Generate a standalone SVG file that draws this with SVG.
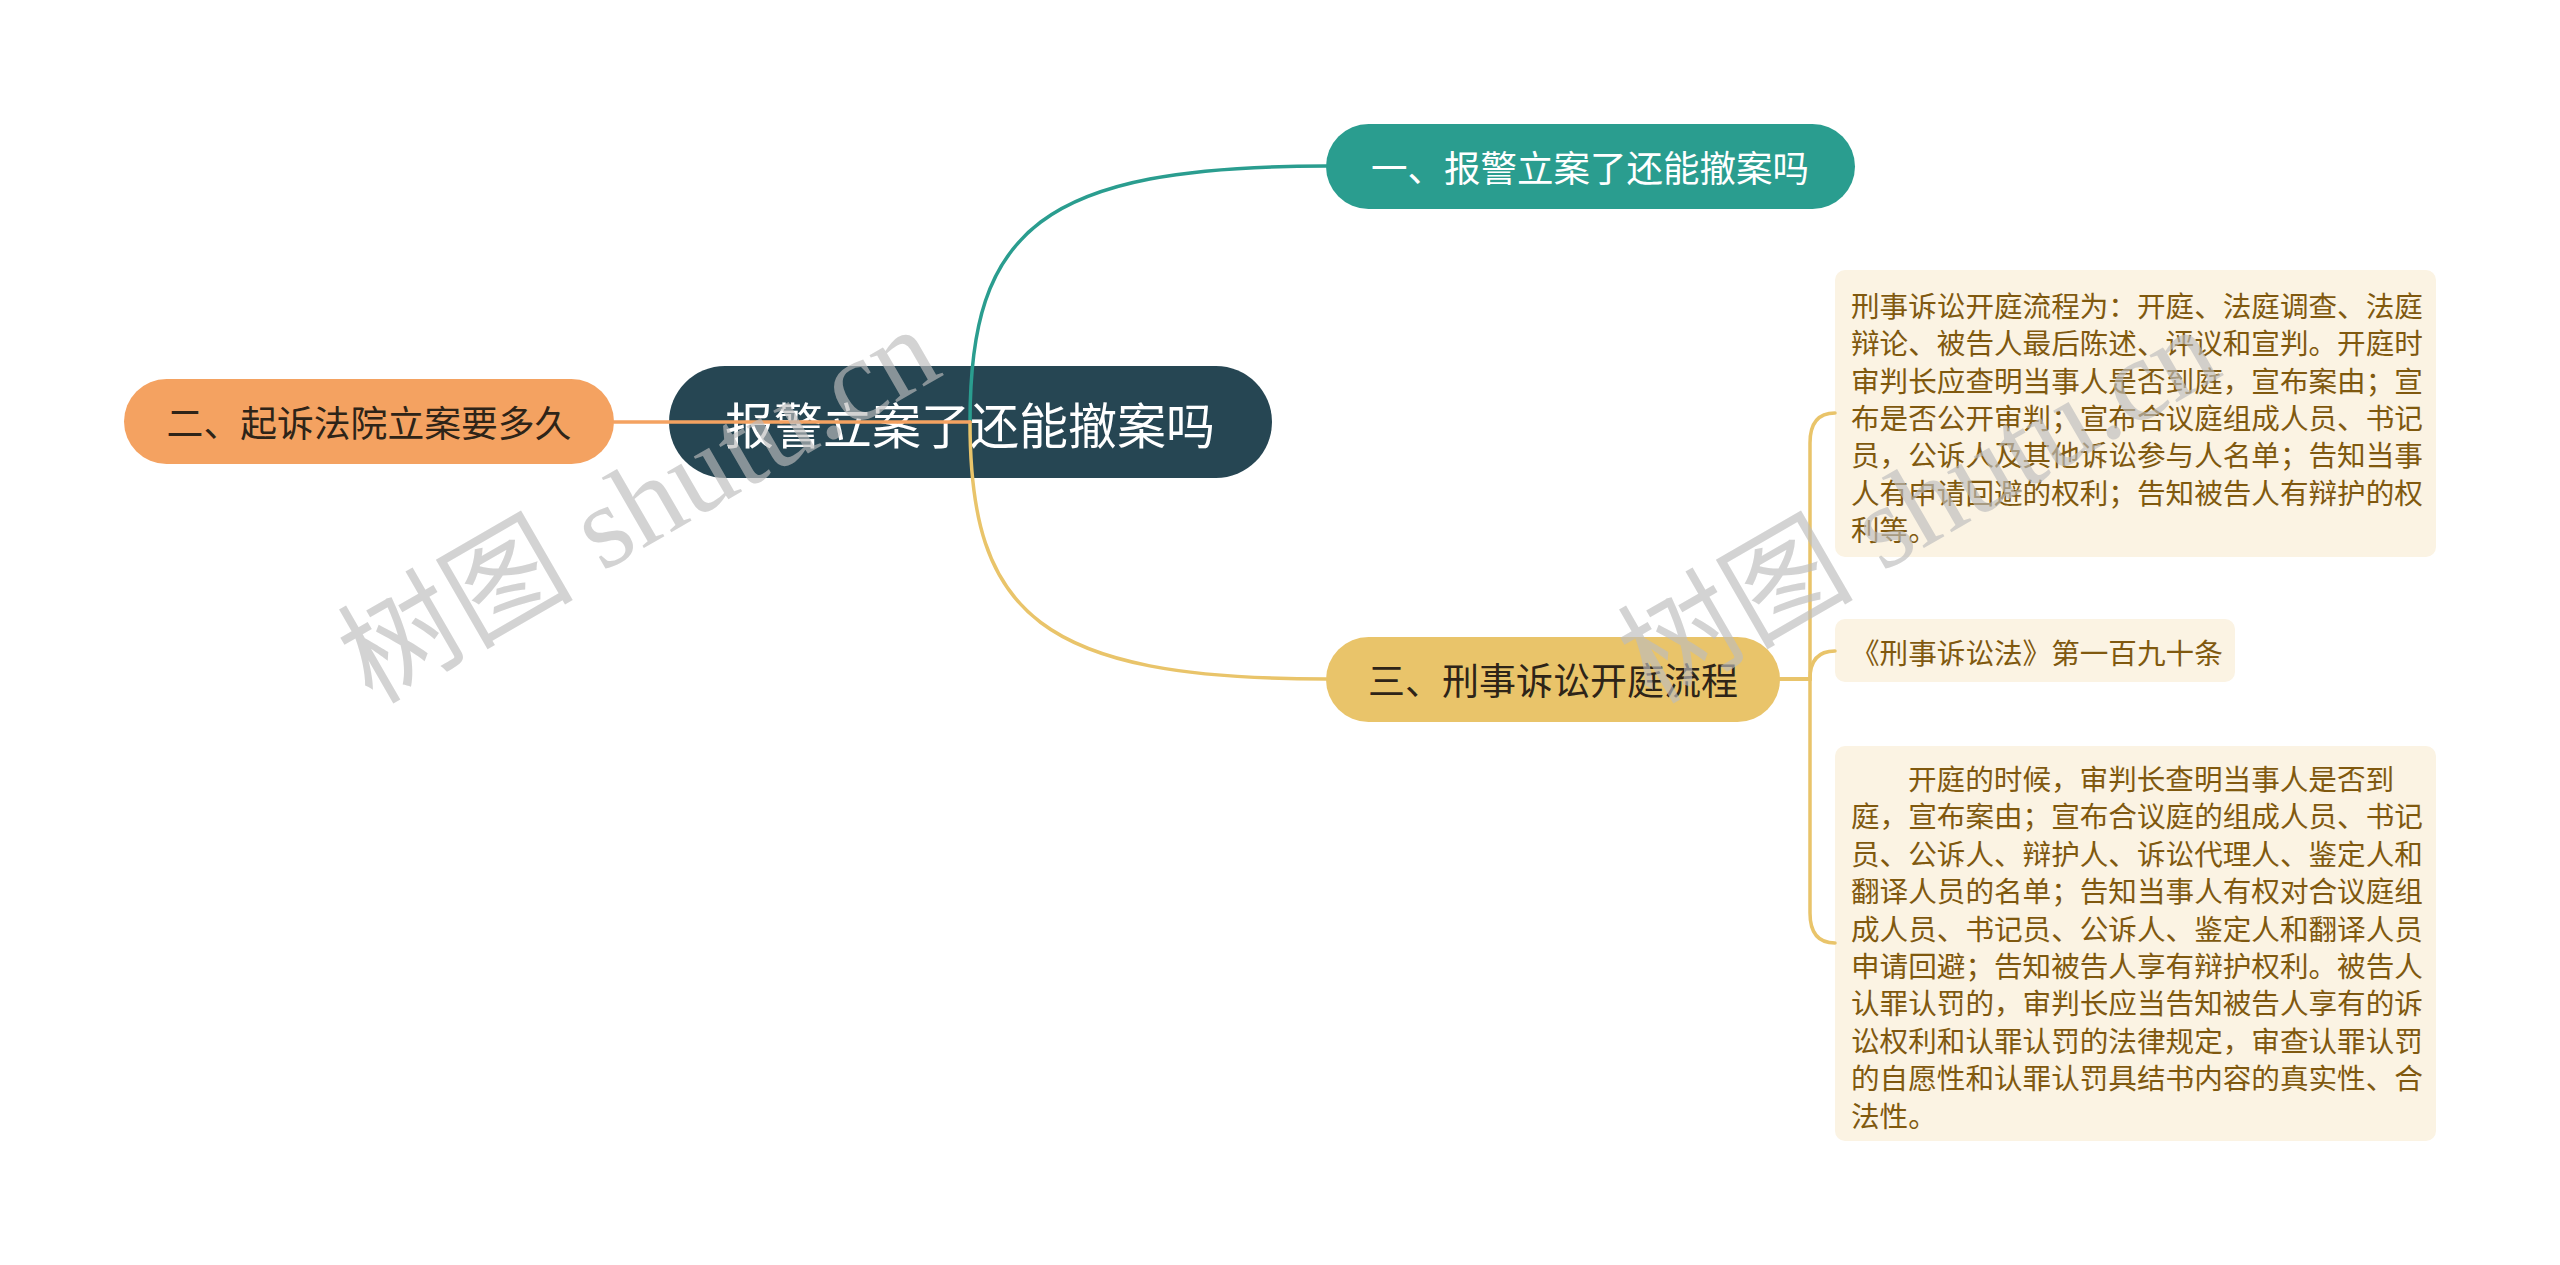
<svg xmlns="http://www.w3.org/2000/svg" width="2560" height="1265" viewBox="0 0 2560 1265">
<style>
.cjk{font-family:"Noto Sans CJK SC","Noto Sans",sans-serif;}
.ntext{dominant-baseline:central;text-anchor:middle;}
.leaf{fill:#fbf3e3;}
.ltext{font-size:28.6px;fill:#80590f;dominant-baseline:central;}
.conn{fill:none;stroke-width:3.5;stroke-linecap:round;}
.wm{font-family:"Liberation Serif","Noto Sans CJK SC",serif;font-size:118px;fill:#bdbdbd;opacity:0.65;}
</style>
<rect width="2560" height="1265" fill="#ffffff"/>

<g id="node-root">
<rect x="669" y="366" width="603" height="112" rx="56" fill="#264653"/>
<text class="cjk ntext" x="970" y="422" font-size="49" fill="#ffffff">报警立案了还能撤案吗</text>
</g>

<g id="node-1">
<rect x="1326" y="124" width="529" height="85" rx="42.5" fill="#2a9d8f"/>
<text class="cjk ntext" x="1590" y="166" font-size="36.5" fill="#ffffff">一、报警立案了还能撤案吗</text>
</g>

<g id="node-2">
<rect x="124" y="379" width="490" height="85" rx="42.5" fill="#f4a261"/>
<text class="cjk ntext" x="369" y="421" font-size="36.8" fill="#2e2418">二、起诉法院立案要多久</text>
</g>

<g id="node-3">
<rect x="1326" y="637" width="454" height="85" rx="42.5" fill="#e9c46a"/>
<text class="cjk ntext" x="1553" y="679" font-size="37" fill="#2e2418">三、刑事诉讼开庭流程</text>
</g>

<g id="leaf-1">
<rect class="leaf" x="1835" y="270" width="601" height="287" rx="10"/>
<text class="cjk ltext">
<tspan x="1851" y="304">刑事诉讼开庭流程为：开庭、法庭调查、法庭</tspan>
<tspan x="1851" y="341.3">辩论、被告人最后陈述、评议和宣判。开庭时</tspan>
<tspan x="1851" y="378.6">审判长应查明当事人是否到庭，宣布案由；宣</tspan>
<tspan x="1851" y="415.9">布是否公开审判；宣布合议庭组成人员、书记</tspan>
<tspan x="1851" y="453.2">员，公诉人及其他诉讼参与人名单；告知当事</tspan>
<tspan x="1851" y="490.5">人有申请回避的权利；告知被告人有辩护的权</tspan>
<tspan x="1851" y="527.8">利等。</tspan>
</text>
</g>

<g id="leaf-2">
<rect class="leaf" x="1835" y="619" width="400" height="63" rx="10"/>
<text class="cjk ltext" x="1851" y="651">《刑事诉讼法》第一百九十条</text>
</g>

<g id="leaf-3">
<rect class="leaf" x="1835" y="746" width="601" height="395" rx="10"/>
<text class="cjk ltext">
<tspan x="1908" y="777">开庭的时候，审判长查明当事人是否到</tspan>
<tspan x="1851" y="814.4">庭，宣布案由；宣布合议庭的组成人员、书记</tspan>
<tspan x="1851" y="851.8">员、公诉人、辩护人、诉讼代理人、鉴定人和</tspan>
<tspan x="1851" y="889.2">翻译人员的名单；告知当事人有权对合议庭组</tspan>
<tspan x="1851" y="926.6">成人员、书记员、公诉人、鉴定人和翻译人员</tspan>
<tspan x="1851" y="964">申请回避；告知被告人享有辩护权利。被告人</tspan>
<tspan x="1851" y="1001.4">认罪认罚的，审判长应当告知被告人享有的诉</tspan>
<tspan x="1851" y="1038.8">讼权利和认罪认罚的法律规定，审查认罪认罚</tspan>
<tspan x="1851" y="1076.2">的自愿性和认罪认罚具结书内容的真实性、合</tspan>
<tspan x="1851" y="1113.6">法性。</tspan>
</text>
</g>

<g id="connectors">
<path class="conn" stroke="#2a9d8f" d="M970,422 C970,230 1040,166 1326,166"/>
<path class="conn" stroke="#e9c46a" d="M970,422 C970,614 1040,679 1326,679"/>
<path class="conn" stroke="#f4a261" d="M970,422 H614"/>
<path class="conn" stroke="#e9c46a" d="M1780,679 H1810 V443 Q1810,413 1835,413"/>
<path class="conn" stroke="#e9c46a" d="M1780,679 H1810 Q1810,651 1835,651"/>
<path class="conn" stroke="#e9c46a" d="M1780,679 H1810 V913 Q1810,943 1835,943"/>
</g>

<g id="watermark">
<text class="wm" transform="translate(372,705) rotate(-30)">树图 shutu.cn</text>
<text class="wm" transform="translate(1652,705) rotate(-30)">树图 shutu.cn</text>
</g>
</svg>
